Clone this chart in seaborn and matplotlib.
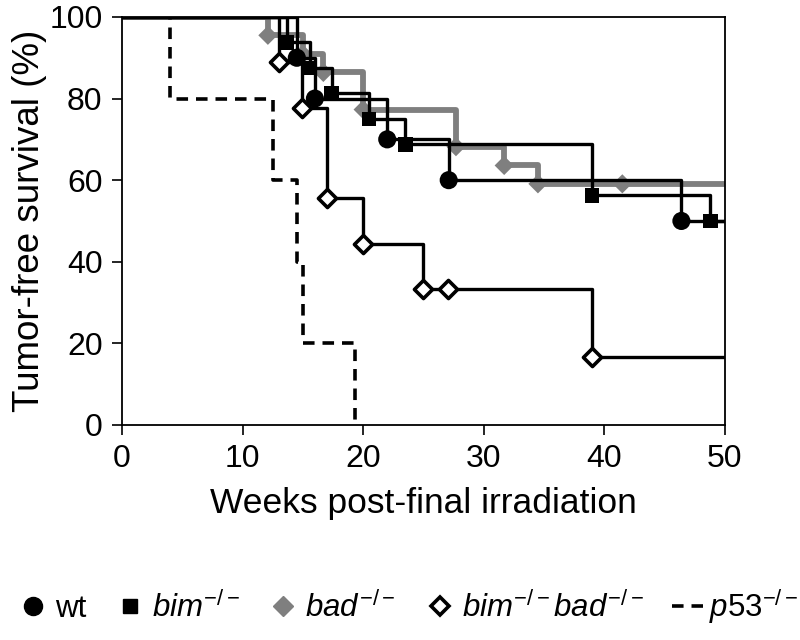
import numpy as np
import pandas as pd
import seaborn as sns
import matplotlib.pyplot as plt
from matplotlib.lines import Line2D

# Curvas de Kaplan-Meier (semanas, % livre de tumor)
wt_t = [0, 14.5, 16.0, 22.0, 27.1, 46.4, 50]
wt_s = [100, 90.0, 80.0, 70.0, 60.0, 50.0, 50.0]
wt_mark_t = [14.5, 16.0, 22.0, 27.1, 46.4]
wt_mark_s = [90.0, 80.0, 70.0, 60.0, 50.0]

bim_t = [0, 13.7, 15.6, 17.4, 20.5, 23.5, 39.0, 48.8, 50]
bim_s = [100, 93.75, 87.5, 81.25, 75.0, 68.75, 56.3, 50.0, 50.0]
bim_mark_t = [13.7, 15.6, 17.4, 20.5, 23.5, 39.0, 48.8]
bim_mark_s = [93.75, 87.5, 81.25, 75.0, 68.75, 56.3, 50.0]

bad_t = [0, 12.1, 15.0, 16.7, 20.0, 27.7, 31.7, 34.5, 50]
bad_s = [100, 95.5, 90.9, 86.4, 77.3, 68.2, 63.6, 59.1, 59.1]
bad_mark_t = [12.1, 15.0, 16.7, 20.0, 27.7, 31.7, 34.5, 41.5]
bad_mark_s = [95.5, 90.9, 86.4, 77.3, 68.2, 63.6, 59.1, 59.1]

bimbad_t = [0, 13.0, 14.9, 17.0, 20.0, 25.0, 39.0, 50]
bimbad_s = [100, 88.9, 77.8, 55.6, 44.4, 33.3, 16.7, 16.7]
bimbad_mark_t = [13.0, 14.9, 17.0, 20.0, 25.0, 27.0, 39.0]
bimbad_mark_s = [88.9, 77.8, 55.6, 44.4, 33.3, 33.3, 16.7]

p53_t = [0, 4.0, 12.5, 14.5, 15.0, 19.3]
p53_s = [100, 80.0, 60.0, 40.0, 20.0, 0.0]

x_ticks = [0, 10, 20, 30, 40, 50]
y_ticks = [0, 20, 40, 60, 80, 100]

sns.set_style('ticks')
plt.rcParams['font.family'] = ['Liberation Sans', 'DejaVu Sans']
plt.rcParams['mathtext.fontset'] = 'custom'
plt.rcParams['mathtext.rm'] = 'Liberation Sans'
plt.rcParams['mathtext.it'] = 'Liberation Sans:italic'
for k in ['text.color', 'axes.labelcolor', 'xtick.color', 'ytick.color', 'axes.edgecolor']:
    plt.rcParams[k] = 'black'

fig = plt.figure(figsize=(8, 6.4), dpi=100)
ax = fig.add_axes([0.1525, 0.336, 0.7535, 0.6375])

GRAY = '#7f7f7f'

def step(tt, ss, **kw):
    d = pd.DataFrame({'t': tt, 'surv': ss})
    sns.lineplot(data=d, x='t', y='surv', ax=ax, estimator=None, sort=False,
                 drawstyle='steps-post', legend=False, **kw)

def marks(tt, ss, **kw):
    d = pd.DataFrame({'t': tt, 'surv': ss})
    sns.scatterplot(data=d, x='t', y='surv', ax=ax, legend=False, clip_on=False, **kw)

# bad primeiro (cinza, por baixo)
step(bad_t, bad_s, color=GRAY, linewidth=4.2, zorder=2)
marks(bad_mark_t, bad_mark_s, marker='D', s=95, color=GRAY, edgecolor='none', zorder=2.5)

step(p53_t, p53_s, color='black', linewidth=2.6, linestyle=(0, (3.2, 2.2)), zorder=3)

step(wt_t, wt_s, color='black', linewidth=2.4, zorder=3)
step(bim_t, bim_s, color='black', linewidth=2.4, zorder=3)
step(bimbad_t, bimbad_s, color='black', linewidth=2.4, zorder=3)

marks(wt_mark_t, wt_mark_s, marker='o', s=170, color='black', edgecolor='none', zorder=4)
marks(bim_mark_t, bim_mark_s, marker='s', s=110, color='black', edgecolor='none', zorder=4)
marks(bimbad_mark_t, bimbad_mark_s, marker='D', s=85, color='white', edgecolor='black',
      linewidth=2.6, zorder=5)

ax.set_xlim(0, 50)
ax.set_ylim(0, 100)
ax.set_xticks(x_ticks)
ax.set_yticks(y_ticks)
for sp in ax.spines.values():
    sp.set_linewidth(1.3)
ax.tick_params(direction='out', length=7, width=1.2, labelsize=23, pad=7)
ax.set_xlabel('Weeks post-final irradiation', fontsize=25.5, labelpad=9)
ax.set_ylabel('Tumor-free survival (%)', fontsize=26.5, labelpad=2)

handles = [
    Line2D([], [], marker='o', color='black', linestyle='none', markersize=13),
    Line2D([], [], marker='s', color='black', linestyle='none', markersize=10),
    Line2D([], [], marker='D', color=GRAY, linestyle='none', markersize=10),
    Line2D([], [], marker='D', markerfacecolor='white', markeredgecolor='black',
           markeredgewidth=2.6, linestyle='none', markersize=9.5),
    Line2D([], [], color='black', linewidth=2.6, linestyle=(0, (3.2, 2.2))),
]
labels = ['wt', r'$\mathit{bim}^{-/-}$', r'$\mathit{bad}^{-/-}$',
          r'$\mathit{bim}^{-/-}\mathit{bad}^{-/-}$', r'$\mathit{p53}^{-/-}$']
fig.legend(handles, labels, loc='center', bbox_to_anchor=(0.51, 0.052), ncol=5,
           frameon=False, fontsize=22.5, handlelength=1.0, handletextpad=0.2,
           columnspacing=0.9)

plt.savefig('out.png', dpi=100)
